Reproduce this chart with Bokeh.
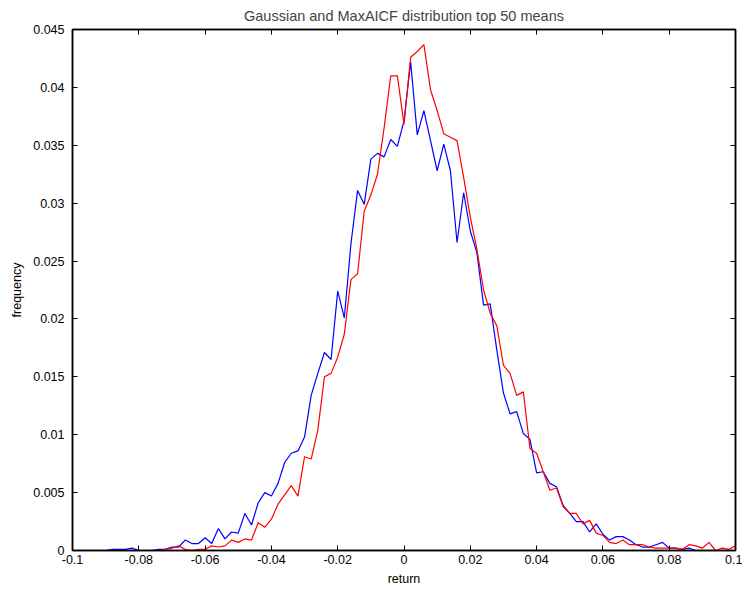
from bokeh.plotting import figure
from bokeh.models import LinearAxis, FixedTicker, Range1d, ColumnDataSource
from bokeh.embed import file_html
from bokeh.resources import INLINE

# ---- data ----
bin_start = -0.1
bin_width = 0.002

series_blue = [
    0, 0, 0, 0, 0, 0, 0.0001, 0.0001, 0.0001, 0.0002,
    0, 0, 0, 0.0001, 0.0001, 0.0003, 0.0003, 0.0009, 0.0006, 0.0006,
    0.0011, 0.0006, 0.0019, 0.0010, 0.0016, 0.0015, 0.0032, 0.0022, 0.0041, 0.0050,
    0.0047, 0.0058, 0.0076, 0.0084, 0.0086, 0.0098, 0.0134, 0.0153, 0.0171, 0.0165,
    0.0224, 0.0201, 0.0265, 0.0311, 0.0299, 0.0338, 0.0343, 0.0340, 0.0355, 0.0349,
    0.0371, 0.0422, 0.0359, 0.0380, 0.0354, 0.0328, 0.0351, 0.0328, 0.0266, 0.0309,
    0.0276, 0.0257, 0.0212, 0.0213, 0.0173, 0.0136, 0.0118, 0.0120, 0.0101, 0.0096,
    0.0067, 0.0068, 0.0058, 0.0055, 0.0039, 0.0032, 0.0025, 0.0025, 0.0016, 0.0023,
    0.0014, 0.0009, 0.0012, 0.0012, 0.0009, 0.0005, 0.0003, 0.0003, 0.0005, 0.0007,
    0.0002, 0.0002, 0.0001, 0.0002, 0, 0, 0, 0, 0, 0,
    0,
]

series_red = [
    0, 0, 0, 0, 0, 0, 0, 0, 0, 0,
    0, 0, 0, 0, 0.0001, 0.0002, 0.0004, 0.0001, 0, 0.0001,
    0.0001, 0.0004, 0.0003, 0.0004, 0.0009, 0.0007, 0.0010, 0.0009, 0.0024, 0.0020,
    0.0027, 0.0040, 0.0048, 0.0056, 0.0047, 0.0081, 0.0079, 0.0104, 0.0150, 0.0153,
    0.0167, 0.0187, 0.0234, 0.0239, 0.0293, 0.0307, 0.0325, 0.0365, 0.0410, 0.0410,
    0.0368, 0.0426, 0.0431, 0.0437, 0.0398, 0.0380, 0.0360, 0.0357, 0.0354, 0.0322,
    0.0288, 0.0260, 0.0225, 0.0205, 0.0194, 0.0160, 0.0153, 0.0134, 0.0137, 0.0088,
    0.0084, 0.0068, 0.0052, 0.0054, 0.0038, 0.0032, 0.0032, 0.0023, 0.0026, 0.0015,
    0.0013, 0.0007, 0.0006, 0.0009, 0.0005, 0.0005, 0.0005, 0.0003, 0.0002, 0.0002,
    0.0002, 0.0002, 0.0001, 0.0005, 0.0004, 0.0002, 0.0007, 0, 0.0002, 0.0001,
    0.0004,
]

returns = [round(bin_start + i * bin_width, 3) for i in range(len(series_blue))]

x_ticks = [-0.1, -0.08, -0.06, -0.04, -0.02, 0, 0.02, 0.04, 0.06, 0.08, 0.1]
x_tick_labels = ["-0.1", "-0.08", "-0.06", "-0.04", "-0.02", "0", "0.02", "0.04", "0.06", "0.08", "0.1"]
y_ticks = [0, 0.005, 0.01, 0.015, 0.02, 0.025, 0.03, 0.035, 0.04, 0.045]
y_tick_labels = ["0", "0.005", "0.01", "0.015", "0.02", "0.025", "0.03", "0.035", "0.04", "0.045"]

title_text = "Gaussian and MaxAICF distribution top 50 means"
x_label = "return"
y_label = "frequency"

FONT = "Liberation Sans"

source = ColumnDataSource(dict(x=returns, blue=series_blue, red=series_red))

p = figure(width=742, height=593, output_backend="svg", toolbar_location=None,
           x_range=Range1d(-0.1, 0.1), y_range=Range1d(0, 0.045),
           min_border_left=72, min_border_right=7, min_border_top=28, min_border_bottom=43)

p.title.text = title_text
p.title.align = "center"
p.title.text_font = FONT
p.title.text_font_size = "14.5px"
p.title.text_font_style = "normal"
p.title.standoff = 11
p.title.offset = 0

p.line("x", "blue", source=source, line_color="#0000ff", line_width=1.2)
p.line("x", "red", source=source, line_color="#ff0000", line_width=1.2)

p.xgrid.visible = False
p.ygrid.visible = False
p.background_fill_color = "white"
p.border_fill_color = "white"
p.outline_line_color = "black"
p.outline_line_width = 1.5

def style_axis(ax, ticks, labels, show_labels):
    ax.ticker = FixedTicker(ticks=ticks)
    ax.major_label_overrides = {t: l for t, l in zip(ticks, labels)}
    ax.major_tick_in = 5
    ax.major_tick_out = 0
    ax.minor_tick_in = 0
    ax.minor_tick_out = 0
    ax.major_tick_line_color = "black"
    ax.major_tick_line_width = 1
    ax.axis_line_color = "black"
    ax.axis_line_width = 1.5
    ax.major_label_text_font = FONT
    ax.major_label_text_color = "black"
    if show_labels:
        ax.major_label_text_font_size = "12.5px"
    else:
        ax.major_label_text_font_size = "0px"
        ax.major_label_standoff = 0

xa = p.xaxis[0]
ya = p.yaxis[0]
style_axis(xa, x_ticks, x_tick_labels, True)
style_axis(ya, y_ticks, y_tick_labels, True)
xa.major_label_standoff = 4
ya.major_label_standoff = 8
xa.axis_label = x_label
ya.axis_label = y_label
for ax in (xa, ya):
    ax.axis_label_text_font = FONT
    ax.axis_label_text_font_size = "12.5px"
    ax.axis_label_text_font_style = "normal"
    ax.axis_label_text_color = "black"
xa.axis_label_standoff = 5
ya.axis_label_standoff = 6

top = LinearAxis()
right = LinearAxis()
style_axis(top, x_ticks, ["" for _ in x_ticks], False)
style_axis(right, y_ticks, ["" for _ in y_ticks], False)
p.add_layout(top, "above")
p.add_layout(right, "right")

open("out.html", "w").write(file_html(p, INLINE))
